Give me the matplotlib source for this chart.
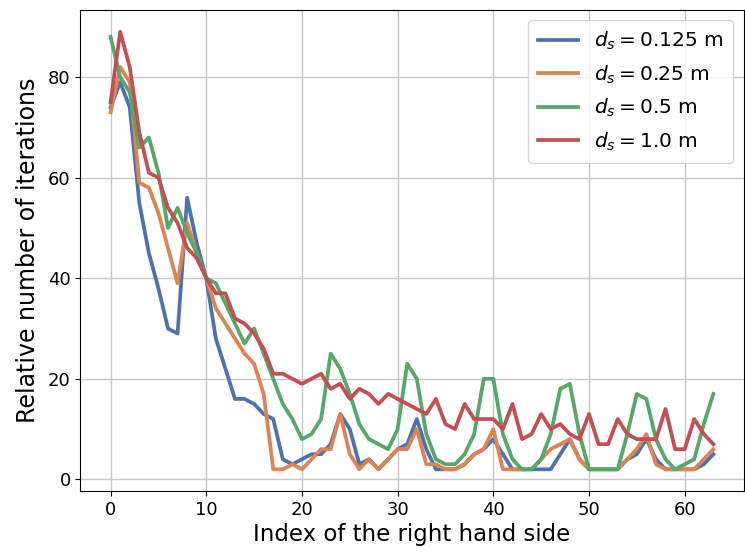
import matplotlib
matplotlib.use("Agg")
import matplotlib.pyplot as plt
import numpy as np

# relative number of iterations per right hand side, one list per d_s
ds_0125 = [74, 79, 74, 55, 45, 38, 30, 29, 56, 47, 40, 28, 22, 16, 16, 15,
           13, 12, 4, 3, 4, 5, 5, 7, 13, 10, 3, 4, 2, 4, 6, 7,
           12, 6, 2, 2, 2, 3, 5, 6, 8, 5, 2, 2, 2, 2, 2, 5,
           8, 4, 2, 2, 2, 2, 4, 5, 8, 4, 2, 2, 2, 2, 3, 5]
ds_025 = [73, 82, 79, 59, 58, 53, 46, 39, 51, 45, 40, 34, 31, 28, 25, 23,
          17, 2, 2, 3, 2, 4, 6, 6, 13, 5, 2, 4, 2, 4, 6, 6,
          10, 3, 3, 2, 2, 3, 5, 6, 10, 2, 2, 2, 2, 4, 6, 7,
          8, 4, 2, 2, 2, 2, 4, 6, 9, 3, 2, 2, 2, 2, 4, 6]
ds_05 = [88, 80, 77, 66, 68, 61, 50, 54, 49, 45, 40, 39, 35, 31, 27, 30,
         25, 20, 15, 12, 8, 9, 12, 25, 22, 17, 11, 8, 7, 6, 10, 23,
         20, 9, 4, 3, 3, 5, 9, 20, 20, 9, 4, 2, 2, 4, 9, 18,
         19, 9, 2, 2, 2, 2, 9, 17, 16, 8, 4, 2, 3, 4, 11, 17]
ds_10 = [75, 89, 82, 69, 61, 60, 54, 51, 46, 44, 40, 37, 37, 32, 31, 29,
         26, 21, 21, 20, 19, 20, 21, 18, 19, 16, 18, 17, 15, 17, 16, 15,
         14, 13, 16, 11, 10, 15, 12, 12, 12, 10, 15, 8, 9, 13, 10, 11,
         9, 8, 13, 7, 7, 12, 9, 8, 8, 8, 14, 6, 6, 12, 9, 7]

series = [ds_0125, ds_025, ds_05, ds_10]
labels = [r"$d_s = 0.125$ m", r"$d_s = 0.25$ m", r"$d_s = 0.5$ m", r"$d_s = 1.0$ m"]
colors = ["#4C72B0", "#DD8452", "#55A868", "#C44E52"]

idx = np.arange(len(ds_0125))

fig = plt.figure(figsize=(7.45, 5.55), dpi=100)
ax = fig.add_axes([0.108, 0.115, 0.89, 0.867])

for vals, lab, col in zip(series, labels, colors):
    ax.plot(idx, vals, color=col, linewidth=2.7, label=lab)

ax.grid(True, color="#c8c8c8", linewidth=1.0)
ax.set_axisbelow(True)
ax.tick_params(labelsize=13)
ax.set_xlabel("Index of the right hand side", fontsize=16.5, labelpad=3)
ax.set_ylabel("Relative number of iterations", fontsize=17, labelpad=6)
ax.legend(loc="upper right", fontsize=14.5, borderpad=0.5, labelspacing=0.55)

plt.savefig("out.png", dpi=100)
